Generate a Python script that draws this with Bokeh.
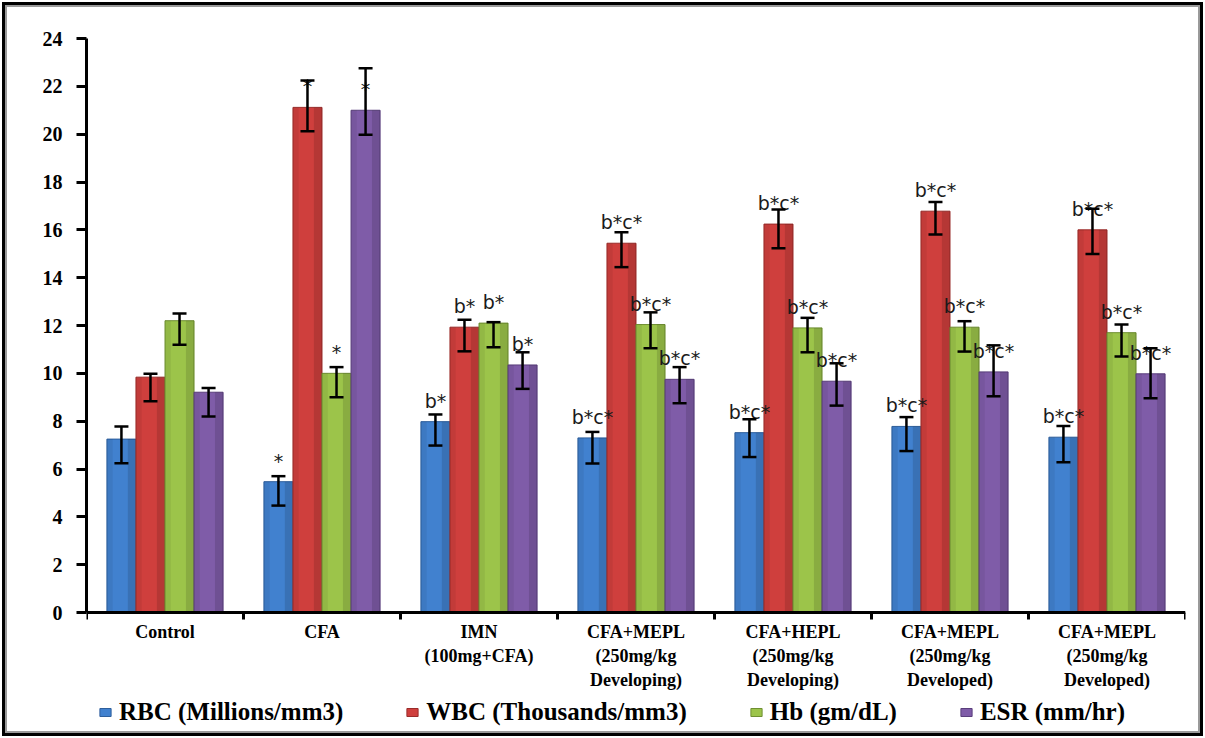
from bokeh.plotting import figure
from bokeh.models import (ColumnDataSource, Range1d, FixedTicker, Whisker, TeeHead,
                          Legend, LegendItem, InlineStyleSheet)
from bokeh.core.properties import value
from bokeh.embed import file_html
from bokeh.resources import INLINE

# ---------------- data ----------------
groups = ["Control", "CFA", "IMN\n(100mg+CFA)",
          "CFA+MEPL\n(250mg/kg\nDeveloping)", "CFA+HEPL\n(250mg/kg\nDeveloping)",
          "CFA+MEPL\n(250mg/kg\nDeveloped)", "CFA+MEPL\n(250mg/kg\nDeveloped)"]

series_names = ["RBC (Millions/mm3)", "WBC (Thousands/mm3)", "Hb (gm/dL)", "ESR (mm/hr)"]

rbc = [7.25, 5.47, 7.98, 7.30, 7.52, 7.78, 7.33]
rbc_up = [7.78, 5.70, 8.28, 7.55, 8.08, 8.17, 7.80]
rbc_lo = [6.24, 4.47, 6.98, 6.23, 6.50, 6.75, 6.28]

wbc = [9.84, 21.12, 11.93, 15.44, 16.24, 16.78, 16.00]
wbc_up = [9.98, 22.24, 12.24, 15.90, 16.85, 17.16, 16.88]
wbc_lo = [8.83, 20.12, 10.92, 14.44, 15.23, 15.80, 14.99]

hb = [12.20, 10.00, 12.10, 12.04, 11.90, 11.93, 11.70]
hb_up = [12.50, 10.26, 12.14, 12.55, 12.32, 12.18, 12.04]
hb_lo = [11.20, 9.00, 11.09, 11.05, 10.88, 10.91, 10.70]

esr = [9.21, 21.00, 10.35, 9.75, 9.67, 10.06, 9.98]
esr_up = [9.39, 22.76, 10.88, 10.26, 10.42, 11.17, 11.05]
esr_lo = [8.19, 19.98, 9.35, 8.75, 8.65, 9.04, 8.96]

rbc_lbl = ["", "*", "b*", "b*c*", "b*c*", "b*c*", "b*c*"]
wbc_lbl = ["", "*", "b*", "b*c*", "b*c*", "b*c*", "b*c*"]
hb_lbl = ["", "*", "b*", "b*c*", "b*c*", "b*c*", "b*c*"]
esr_lbl = ["", "*", "b*", "b*c*", "b*c*", "b*c*", "b*c*"]

y_ticks = list(range(0, 25, 2))
y_max = 24

colors = ["#4181CF", "#CF3F3D", "#9CC44A", "#7F5CA8"]
edge_colors = ["#2E5F9C", "#9A2C2A", "#6F8F32", "#5A3F7C"]

# ---------------- figure ----------------
# the plotting area reaches down to the bottom of the page so that the legend
# can sit under the category labels; the value axis spans 0..24 over 574 px
frame_h = 700
axis_px = 574
y_min = y_max - frame_h * y_max / axis_px

p = figure(frame_width=1099, frame_height=frame_h, output_backend="svg",
           toolbar_location=None,
           x_range=Range1d(0, len(groups)), y_range=Range1d(y_min, y_max),
           min_border_left=86, min_border_right=20, min_border_top=38,
           min_border_bottom=0)
border_css = ("inset 0 0 0 2px white, inset 0 0 0 5px black, "
              "inset 0 0 0 7px #9a9a9a")
p.styles = {"box-shadow": border_css, "background-color": "white"}
p.stylesheets = [InlineStyleSheet(css=":host { box-shadow: %s; background-color: white; }" % border_css)]
p.xgrid.visible = False
p.ygrid.visible = False
p.outline_line_color = None
p.background_fill_color = None
p.background_fill_alpha = 0
p.border_fill_color = None
p.border_fill_alpha = 0

bw = 0.185
offsets = [-1.5 * bw, -0.5 * bw, 0.5 * bw, 1.5 * bw]
centers = [i + 0.5 for i in range(len(groups))]

all_vals = [rbc, wbc, hb, esr]
all_up = [rbc_up, wbc_up, hb_up, esr_up]
all_lo = [rbc_lo, wbc_lo, hb_lo, esr_lo]
all_lbl = [rbc_lbl, wbc_lbl, hb_lbl, esr_lbl]

legend_items = []
label_sources = []
for k in range(4):
    xs = [c + offsets[k] for c in centers]
    src = ColumnDataSource(dict(x=xs, top=all_vals[k], up=all_up[k], lo=all_lo[k],
                                lbl=all_lbl[k],
                                xr=[x + bw * 0.36 for x in xs],
                                xl=[x - bw * 0.40 for x in xs]))
    r = p.vbar(x="x", top="top", width=bw, bottom=0, source=src,
               fill_color=colors[k], line_color=edge_colors[k], line_width=1)
    # shading for a bevelled look
    p.vbar(x="xr", top="top", width=bw * 0.28, bottom=0, source=src,
           fill_color="black", fill_alpha=0.12, line_color=None)
    p.vbar(x="xl", top="top", width=bw * 0.2, bottom=0, source=src,
           fill_color="black", fill_alpha=0.06, line_color=None)
    legend_items.append(LegendItem(label=series_names[k], renderers=[r]))
    label_sources.append(src)

for src in label_sources:
    wh = Whisker(base="x", upper="up", lower="lo", source=src, level="overlay",
                 line_color="black", line_width=2.5,
                 upper_head=TeeHead(size=14, line_width=2.5, line_color="black"),
                 lower_head=TeeHead(size=14, line_width=2.5, line_color="black"))
    p.add_layout(wh)

for src in label_sources:
    p.text(x="x", y="top", text="lbl", source=src, text_align="center",
           text_baseline="middle", y_offset=-21,
           text_font=value("DejaVu Sans"), text_font_size="19px",
           text_color="#1a1a1a", level="overlay")

# ---------------- axes ----------------
xa = p.xaxis[0]
xa.fixed_location = 0
xa.ticker = FixedTicker(ticks=centers, minor_ticks=list(range(len(groups) + 1)))
xa.major_label_overrides = {c: g for c, g in zip(centers, groups)}
xa.major_tick_out = 0
xa.major_tick_in = 0
xa.minor_tick_out = 7
xa.minor_tick_in = 0
xa.minor_tick_line_width = 3
xa.minor_tick_line_color = "black"
xa.axis_line_width = 3
xa.axis_line_color = "black"
xa.major_label_text_font = "Liberation Serif"
xa.major_label_text_font_style = "bold"
xa.major_label_text_font_size = "18px"
xa.major_label_text_color = "black"
xa.major_label_standoff = 2

ya = p.yaxis[0]
ya.bounds = (0, y_max)
ya.ticker = FixedTicker(ticks=y_ticks, minor_ticks=[])
ya.axis_line_width = 3
ya.axis_line_color = "black"
ya.major_tick_out = 10
ya.major_tick_in = 0
ya.major_tick_line_width = 3
ya.major_label_text_font = "Liberation Serif"
ya.major_label_text_font_style = "bold"
ya.major_label_text_font_size = "20px"
ya.major_label_text_color = "black"
ya.major_label_standoff = 14

# ---------------- legend ----------------
legend = Legend(items=legend_items, orientation="horizontal", location=(12, 12),
                label_text_font="Liberation Serif", label_text_font_style="bold",
                label_text_font_size="25px", label_text_color="black",
                glyph_width=14, glyph_height=10, spacing=62, label_standoff=7,
                border_line_color=None, background_fill_alpha=0,
                margin=0, padding=3)
p.add_layout(legend, "center")

open("out.html", "w").write(file_html(p, INLINE))
